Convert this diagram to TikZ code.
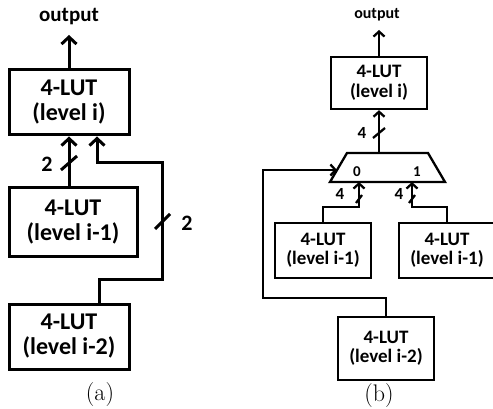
\documentclass[tikz,border=0pt]{standalone}
\usepackage{fontspec}
\newfontfamily\diagfont{Carlito}
\usetikzlibrary{arrows.meta,calc}

\begin{document}
\begin{tikzpicture}[x=1pt,y=-1pt,
  % panel (a): heavier strokes and larger type
  lutA/.style={draw, line width=3pt, minimum width=120pt, minimum height=65pt,
    align=center, inner sep=0pt, font=\diagfont\bfseries\fontsize{24}{25}\selectfont},
  wireA/.style={line width=3pt},
  tipA/.style={-{Straight Barb[length=7pt,width=15pt]}},
  txtA/.style={font=\diagfont\bfseries\fontsize{21}{24}\selectfont},
  % panel (b): lighter strokes and smaller type
  lutB/.style={draw, line width=2.4pt, minimum width=96pt, minimum height=55pt,
    align=center, inner sep=0pt, font=\diagfont\bfseries\fontsize{19}{19.5}\selectfont},
  wireB/.style={line width=2.3pt},
  tipB/.style={-{Straight Barb[length=5pt,width=11pt]}},
  txtB/.style={font=\diagfont\bfseries\fontsize{16}{19}\selectfont},
  caption/.style={font=\fontsize{24}{28}\selectfont},
]
\useasboundingbox (0,0) rectangle (493,409);

% ---------------- (a) ----------------
\node[txtA] (outa) at (69,17) {output};
\coordinate (outa-end) at (69,35);
\node[lutA] (a0) at (69,102.5) {4-LUT\\(level i)};
\node[lutA, minimum width=128pt, minimum height=68pt] (a1) at (73,222) {4-LUT\\(level i-1)};
\node[lutA] (a2) at (69,336.5) {4-LUT\\(level i-2)};

\draw[wireA, tipA] (a0.north) -- (outa-end);
\draw[wireA, tipA] (a0.south |- a1.north) -- (a0.south);

\coordinate (ja) at (162,279);
\coordinate (jb) at (97,163);
\draw[wireA, tipA, line join=miter] ($(a2.north)+(30,0)$) |- (ja) |- (jb) -- (jb |- a0.south);

% bus-width marks
\coordinate (sa1) at (69,163);
\coordinate (sa2) at (162,222);
\draw[wireA] ($(sa1)+(-8,7)$) -- ($(sa1)+(8,-7)$);
\draw[wireA] ($(sa2)+(-7,7)$) -- ($(sa2)+(8,-8)$);
\node[txtA, font=\diagfont\bfseries\fontsize{22}{24}\selectfont] (la1) at (47,164) {2};
\node[txtA, font=\diagfont\bfseries\fontsize{22}{24}\selectfont] (la2) at (187,223) {2};

\node[caption] (capa) at (100,395) {(a)};

% ---------------- (b) ----------------
\node[txtB] (outb) at (377,15) {output};
\coordinate (outb-end) at (379,30);
\node[lutB, minimum height=52pt] (b0) at (379,83) {4-LUT\\(level i)};
\node[lutB] (b1l) at (323,250.5) {4-LUT\\(level i-1)};
\node[lutB] (b1r) at (447,250.5) {4-LUT\\(level i-1)};
\node[lutB, minimum height=63pt] (b2) at (386,348.5) {4-LUT\\(level i-2)};

% multiplexer
\coordinate (m-tl) at (347,153);
\coordinate (m-tr) at (428,153);
\coordinate (m-br) at (445,182);
\coordinate (m-bl) at (330,182);
\draw[wireB, line join=miter] (m-tl) -- (m-tr) -- (m-br) -- (m-bl) -- cycle;
\coordinate (mo) at (379,153);
\coordinate (mi0) at (359,182);
\coordinate (mi1) at (412,182);
\coordinate (msel) at (337,170);
\node[txtB, font=\diagfont\bfseries\fontsize{15}{17}\selectfont] (m0) at (357,172) {0};
\node[txtB, font=\diagfont\bfseries\fontsize{15}{17}\selectfont] (m1) at (417,172) {1};

\draw[wireB, tipB] (b0.north) -- (outb-end);
\draw[wireB, tipB] (mo) -- (b0.south);

\coordinate (jl) at (359,207);
\coordinate (jr) at (412,207);
\coordinate (js) at (263,298);
\draw[wireB, tipB, line join=miter] (b1l.north) |- (jl) -- (mi0);
\draw[wireB, tipB, line join=miter] (b1r.north) |- (jr) -- (mi1);
\draw[wireB, tipB, line join=miter] (b2.north) |- (js) |- (msel);

% bus-width marks
\coordinate (sb0) at (379,133);
\coordinate (sb1) at (359,199);
\coordinate (sb2) at (412,199);
\draw[wireB] ($(sb0)+(-6,5)$) -- ($(sb0)+(6,-5)$);
\draw[wireB] ($(sb1)+(-3,4)$) -- ($(sb1)+(3,-4)$);
\draw[wireB] ($(sb2)+(-3,4)$) -- ($(sb2)+(3,-4)$);
\node[txtB, font=\diagfont\bfseries\fontsize{17}{19}\selectfont] (lb0) at (362,133) {4};
\node[txtB, font=\diagfont\bfseries\fontsize{17}{19}\selectfont] (lb1) at (340,194) {4};
\node[txtB, font=\diagfont\bfseries\fontsize{17}{19}\selectfont] (lb2) at (399,194) {4};

\node[caption] (capb) at (379,396) {(b)};
\end{tikzpicture}
\end{document}
